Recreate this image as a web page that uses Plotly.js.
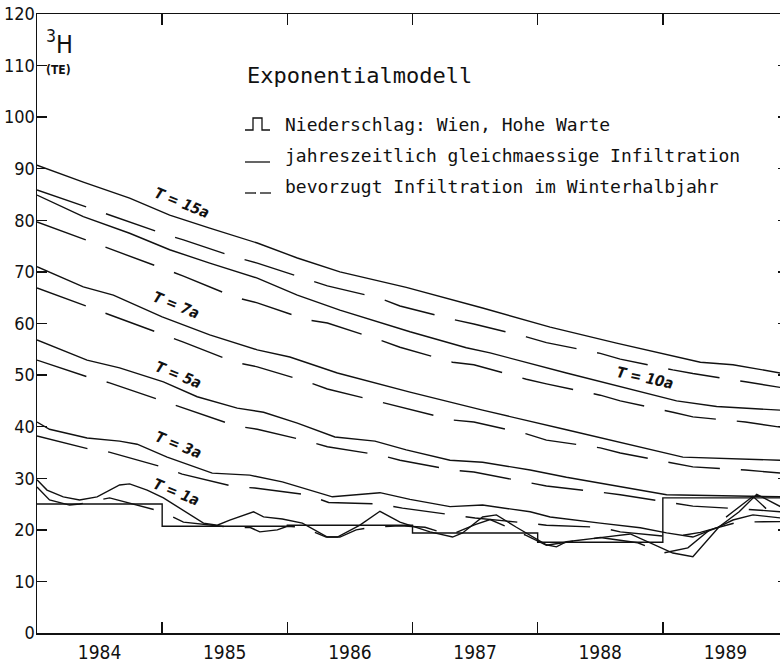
<!DOCTYPE html>
<html>
<head>
<meta charset="utf-8">
<script src="https://cdn.plot.ly/plotly-3.0.1.min.js"></script>
<style>
html,body{margin:0;padding:0;overflow:hidden;background:#fff;width:780px;height:667px;}
#chart{width:800px;height:667px;}
</style>
</head>
<body>
<div id="chart"></div>
<script>
// ---------- data ----------
var yearLabels = ['1984','1985','1986','1987','1988','1989'];
var yearMid = [1984.5,1985.5,1986.5,1987.5,1988.5,1989.5];
var yearBounds = [1984,1985,1986,1987,1988,1989,1990];
var yTicks = [0,10,20,30,40,50,60,70,80,90,100,110,120];

// Niederschlag Wien, Hohe Warte (annual means, step)
var precipX = [1984,1985,1986,1987,1988,1989,1990];
var precipY = [25.0,20.7,20.9,19.4,17.6,26.2,26.2];

// dashed curves share sampling positions
var dashX = [1984.0,1984.41,1984.58,1985.0,1985.17,1985.58,1985.76,1986.16,1986.32,1986.74,1986.90,1987.32,1987.49,1987.91,1988.07,1988.50,1988.66,1989.08,1989.24,1989.66,1989.83,1989.94];

var t15SolidX = [1984.0,1984.37,1984.74,1985.06,1985.38,1985.76,1986.08,1986.42,1986.95,1987.56,1988.10,1988.63,1989.30,1989.56,1989.94];
var t15SolidY = [90.7,87.4,84.3,81.0,78.5,75.6,72.7,70.0,67.0,63.0,59.3,56.2,52.5,52.0,50.4];
var t15DashY  = [85.9,82.4,81.0,77.5,76.2,72.9,71.7,68.6,67.3,64.9,63.4,60.8,59.9,57.4,56.3,54.2,53.1,51.0,50.3,48.7,48.1,47.6];

var t10SolidX = [1984.0,1984.37,1984.74,1985.06,1985.38,1985.76,1986.08,1986.42,1986.98,1987.43,1987.62,1988.23,1989.11,1989.43,1989.94];
var t10SolidY = [84.9,80.7,77.5,74.3,71.7,68.8,65.5,62.6,58.4,55.3,54.3,50.4,45.0,43.9,43.2];
var t10DashY  = [79.7,76.0,74.4,70.6,69.2,65.1,64.0,60.7,60.1,56.8,55.4,52.5,52.0,49.2,48.3,46.1,45.0,42.8,41.9,40.9,40.3,39.9];

var t7SolidX = [1984.0,1984.37,1984.61,1985.0,1985.38,1985.6,1985.76,1986.02,1986.40,1986.98,1987.56,1988.23,1989.16,1989.94];
var t7SolidY = [71.0,67.1,65.5,61.3,57.8,56.2,54.9,53.5,50.4,46.7,43.2,39.4,34.1,33.5];
var t7DashY  = [66.9,63.2,61.7,57.8,56.4,52.5,51.6,48.7,47.3,44.8,43.8,41.3,40.9,38.6,37.4,35.9,34.9,33.0,32.2,31.6,31.2,31.0];

var t5SolidX = [1984.0,1984.4,1984.66,1985.01,1985.28,1985.6,1985.81,1986.08,1986.38,1986.7,1986.95,1987.3,1987.56,1987.94,1988.23,1988.63,1989.03,1989.94];
var t5SolidY = [56.8,52.9,51.4,48.7,45.8,43.6,42.8,40.7,38.0,37.2,35.5,33.5,33.1,31.6,30.2,28.5,26.8,26.4];
var t5DashY  = [52.9,49.6,48.5,45.0,43.6,40.2,39.5,37.2,36.1,34.5,33.5,31.6,31.2,29.3,28.5,27.3,26.8,25.2,24.6,24.0,23.7,23.5];

var t3SolidX = [1984.0,1984.1,1984.4,1984.66,1984.8,1985.04,1985.4,1985.7,1985.96,1986.36,1986.74,1986.98,1987.3,1987.56,1987.94,1988.1,1988.5,1988.82,1989.03,1989.24,1989.43,1989.56,1989.72,1989.94];
var t3SolidY = [40.9,39.5,37.8,37.2,36.6,34.1,31.0,30.6,29.3,26.4,27.2,25.9,24.5,24.8,23.5,22.5,21.3,20.4,19.4,18.6,20.4,21.9,22.9,22.3];
var t3DashX = [1984.0,1984.41,1984.57,1985.0,1985.16,1985.57,1985.74,1986.16,1986.33,1986.74,1986.92,1987.32,1987.5,1987.92,1988.07,1988.5,1988.66,1989.08,1989.3,1989.6,1989.94];
var t3DashY = [38.2,35.7,35.1,32.2,30.8,28.4,28.1,26.8,25.3,25.0,24.2,22.9,22.3,21.3,20.9,20.5,19.6,18.6,19.5,21.5,21.6];

var t1SolidX = [1984.0,1984.08,1984.21,1984.34,1984.48,1984.66,1984.74,1984.88,1985.01,1985.17,1985.33,1985.44,1985.54,1985.73,1985.81,1985.96,1986.12,1986.32,1986.40,1986.58,1986.74,1986.9,1987.0,1987.14,1987.32,1987.40,1987.56,1987.67,1987.83,1987.91,1988.07,1988.15,1988.23,1988.5,1988.74,1989.08,1989.24,1989.45,1989.61,1989.75,1989.94];
var t1SolidY = [29.7,27.7,26.4,25.8,26.4,28.7,28.9,27.7,26.2,23.8,21.3,20.9,21.9,23.5,22.5,22.1,21.3,18.6,18.6,20.9,23.6,21.5,20.7,19.6,18.6,19.4,22.5,22.9,20.5,19.4,17.1,16.7,17.7,18.5,19.2,15.5,14.8,20.6,23.5,26.9,24.5];
var t1DashX = [1984.0,1984.1,1984.26,1984.34,1984.58,1985.0,1985.17,1985.58,1985.7,1985.78,1985.92,1986.0,1986.12,1986.31,1986.42,1986.55,1986.68,1986.9,1987.1,1987.3,1987.5,1987.62,1987.9,1988.07,1988.2,1988.5,1988.8,1989.0,1989.2,1989.4,1989.56,1989.72,1989.94];
var t1DashY = [28.3,25.8,24.8,25.0,26.2,23.5,21.5,20.4,20.5,19.6,20.0,20.7,20.5,18.6,18.6,20.0,20.5,20.8,20.5,19.0,21.0,22.0,19.0,17.0,17.5,18.5,17.5,15.5,16.5,20.5,23.5,26.5,21.5];

// ---------- drawing ----------
var INK = '#111';
var LW = 1.4;
var DASH = '52px,21px';
var tickFont = "'Liberation Sans Narrow','DejaVu Sans Condensed','Arial Narrow',sans-serif";
var monoFont = "'DejaVu Sans Mono','Liberation Mono',monospace";

function solid(x, y){ return {x:x, y:y, type:'scatter', mode:'lines', line:{color:INK, width:LW}, hoverinfo:'skip', showlegend:false}; }
function dashed(x, y){ return {x:x, y:y, type:'scatter', mode:'lines', line:{color:INK, width:LW, dash:DASH}, hoverinfo:'skip', showlegend:false}; }

var traces = [
  {x:precipX, y:precipY, xaxis:'x2', type:'scatter', mode:'lines', line:{color:INK, width:LW, shape:'hv'}, hoverinfo:'skip', showlegend:false},
  solid(t15SolidX, t15SolidY), dashed(dashX, t15DashY),
  solid(t10SolidX, t10SolidY), dashed(dashX, t10DashY),
  solid(t7SolidX, t7SolidY),   dashed(dashX, t7DashY),
  solid(t5SolidX, t5SolidY),   dashed(dashX, t5DashY),
  solid(t3SolidX, t3SolidY),   dashed(t3DashX, t3DashY),
  solid(t1SolidX, t1SolidY),   dashed(t1DashX, t1DashY)
];

// layout helpers: pixel -> paper (plot area 37..788 x 14..633)
var L = 37, R = 788, T = 14, B = 633;
function px(v){ return (v - L) / (R - L); }
function py(v){ return (B - v) / (B - T); }

function curveLabel(text, xd, yd, ang){
  return {x:xd, y:yd, xref:'x', yref:'y', xanchor:'center', yanchor:'middle', text:'<i>'+text+'</i>', showarrow:false, textangle:ang,
          font:{family:"'DejaVu Sans Condensed','Liberation Sans Narrow',sans-serif", size:15, color:INK, weight:'bold'}};
}
function legText(text, xp, yp, size){
  return {x:px(xp), y:py(yp), xref:'paper', yref:'paper', xanchor:'left', yanchor:'middle', text:text, showarrow:false,
          font:{family:monoFont, size:size, color:INK}};
}

var annotations = [
  {x:px(59), y:py(43), xref:'paper', yref:'paper', xanchor:'center', yanchor:'middle', text:'<sup>3</sup>H', showarrow:false,
   font:{family:"'DejaVu Sans Condensed',sans-serif", size:25, color:INK}},
  {x:px(58), y:py(70), xref:'paper', yref:'paper', xanchor:'center', yanchor:'middle', text:'(TE)', showarrow:false,
   font:{family:"'DejaVu Sans Condensed',sans-serif", size:12, color:INK, weight:'bold'}},
  legText('Exponentialmodell', 245, 76, 22),
  legText('Niederschlag: Wien, Hohe Warte', 283, 124, 18),
  legText('jahreszeitlich gleichmaessige Infiltration', 283, 155, 18),
  legText('bevorzugt Infiltration im Winterhalbjahr', 283, 186, 18),
  curveLabel('T = 15a', 1985.16, 83.4, 22),
  curveLabel('T = 7a', 1985.11, 63.6, 22),
  curveLabel('T = 5a', 1985.13, 50.0, 22),
  curveLabel('T = 3a', 1985.13, 36.4, 22),
  curveLabel('T = 1a', 1985.11, 27.3, 22),
  curveLabel('T = 10a', 1988.86, 49.4, 12)
];

function pathP(points){
  return points.map(function(p, i){ return (i ? 'L' : 'M') + px(p[0]) + ',' + py(p[1]); }).join(' ');
}
var shapes = [
  {type:'path', xref:'paper', yref:'paper', line:{color:INK, width:1.3},
   path: pathP([[245,130],[253,130],[253,118],[262,118],[262,130],[270,130]])},
  {type:'path', xref:'paper', yref:'paper', line:{color:INK, width:1.3},
   path: pathP([[245,162],[270,162]])},
  {type:'path', xref:'paper', yref:'paper', line:{color:INK, width:1.3},
   path: pathP([[245,193],[256,193]])},
  {type:'path', xref:'paper', yref:'paper', line:{color:INK, width:1.3},
   path: pathP([[260,193],[271,193]])}
];

var layout = {
  width:800, height:667,
  margin:{l:L, r:800-R, t:T, b:667-B, pad:0},
  paper_bgcolor:'#fff', plot_bgcolor:'#fff',
  showlegend:false,
  // tick marks at year boundaries (bottom and mirrored on top)
  xaxis:{range:[1984,1990], showgrid:false, zeroline:false, showline:true, linecolor:INK, linewidth:1.5,
         mirror:'ticks', tickmode:'array', tickvals:yearBounds, ticks:'inside', ticklen:11, tickwidth:1.4, tickcolor:INK,
         showticklabels:false},
  // year labels centred in each year
  xaxis2:{range:[1984,1990], overlaying:'x', anchor:'y', side:'bottom', showgrid:false, zeroline:false, showline:false,
          tickmode:'array', tickvals:yearMid, ticktext:yearLabels, ticks:'', ticklabelstandoff:6,
          tickfont:{family:tickFont, size:19, color:INK}},
  yaxis:{range:[0,120], showgrid:false, zeroline:false, showline:true, linecolor:INK, linewidth:1.5,
         mirror:'ticks', tickmode:'array', tickvals:yTicks, ticks:'inside', ticklen:10, tickwidth:1.4, tickcolor:INK,
         ticklabelstandoff:-3,
         tickfont:{family:tickFont, size:18, color:INK}},
  annotations:annotations,
  shapes:shapes
};

Plotly.newPlot('chart', traces, layout, {staticPlot:true, displayModeBar:false});
</script>
</body>
</html>
